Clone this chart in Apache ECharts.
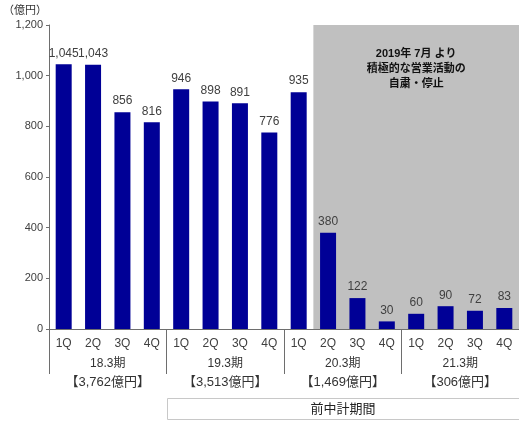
<!DOCTYPE html>
<html>
<head>
<meta charset="utf-8">
<script src="https://cdn.jsdelivr.net/npm/echarts@6/dist/echarts.min.js"></script>
<style>
  html, body { margin: 0; padding: 0; background: #fff; }
  #chart { width: 519px; height: 421px; }
</style>
</head>
<body>
<div id="chart"></div>
<script>
// Quarterly sales (億円) by fiscal period
const quarters = ['1Q','2Q','3Q','4Q','1Q','2Q','3Q','4Q','1Q','2Q','3Q','4Q','1Q','2Q','3Q','4Q'];
const sales = [1045, 1043, 856, 816, 946, 898, 891, 776, 935, 380, 122, 30, 60, 90, 72, 83];
const periods = ['18.3期', '19.3期', '20.3期', '21.3期'];
const periodTotals = ['3,762', '3,513', '1,469', '306'];
// quarters after active sales were suspended (from 2019-07)
const suspended = [0, 0, 0, 0, 0, 0, 0, 0, 0, 1, 1, 1, 1, 1, 1, 1];
const yTicks = { min: 0, max: 1200, interval: 200 };

const FONT = '"Liberation Sans", Arial, "Noto Sans CJK JP", sans-serif';
const AXIS_COLOR = '#6e6e6e';
const BAND = '#c0c0c0';

const chart = echarts.init(document.getElementById('chart'), null, { renderer: 'canvas' });

const fmt = v => Number(v).toLocaleString('en-US');

// suspension span in category-slot units (slot i covers [i, i+1])
const bandStart = suspended.indexOf(1);
const bandEnd = suspended.lastIndexOf(1) + 1;

chart.setOption({
  animation: false,
  textStyle: { fontFamily: FONT },
  grid: { left: 45, right: 0, top: 25, bottom: 92 },
  xAxis: [
    {
      type: 'category',
      data: quarters,
      axisLine: { lineStyle: { color: AXIS_COLOR, width: 1 } },
      axisTick: { show: false },
      axisLabel: { color: '#404040', fontSize: 12, margin: 9, interval: 0 }
    },
    {
      type: 'category',
      data: periods.map((p, i) => '{p|' + p + '}\n{t|【' + periodTotals[i] + '億円】}'),
      position: 'bottom',
      axisLine: { show: false },
      axisTick: { show: true, length: 45, lineStyle: { color: AXIS_COLOR } },
      axisLabel: {
        color: '#333',
        margin: 25,
        interval: 0,
        rich: {
          p: { fontSize: 12, lineHeight: 19, color: '#333' },
          t: { fontSize: 13, lineHeight: 19, color: '#333' }
        }
      }
    },
    {
      // slot axis: same width as the quarter axis, measured in slots
      type: 'value',
      min: 0,
      max: quarters.length,
      show: false
    }
  ],
  yAxis: {
    type: 'value',
    min: yTicks.min,
    max: yTicks.max,
    interval: yTicks.interval,
    name: '（億円）',
    nameLocation: 'end',
    nameGap: 9,
    nameTextStyle: { color: '#333', fontSize: 11, align: 'right', padding: [0, 2, 0, 0] },
    axisLine: { show: true, lineStyle: { color: AXIS_COLOR } },
    axisTick: { show: true, length: 3, lineStyle: { color: AXIS_COLOR } },
    splitLine: { show: false },
    axisLabel: { color: '#404040', fontSize: 11, margin: 6, formatter: fmt }
  },
  series: [
    {
      // gray band over the suspension period
      type: 'line',
      xAxisIndex: 2,
      data: [],
      silent: true,
      z: 1,
      markArea: {
        silent: true,
        itemStyle: { color: BAND, opacity: 1 },
        label: {
          show: true,
          position: 'insideTop',
          distance: 21,
          color: '#111',
          fontWeight: 'bold',
          fontSize: 11,
          lineHeight: 15,
          formatter: '2019年 7月 より\n積極的な営業活動の\n自粛・停止'
        },
        data: [[
          { xAxis: bandStart, yAxis: yTicks.max },
          { xAxis: bandEnd, yAxis: yTicks.min }
        ]]
      }
    },
    {
      type: 'bar',
      xAxisIndex: 0,
      data: sales,
      barWidth: 16,
      itemStyle: { color: '#000096' },
      label: {
        show: true,
        position: 'top',
        distance: 5,
        color: '#404040',
        fontSize: 12,
        formatter: p => fmt(p.value)
      },
      z: 3
    }
  ],
  graphic: [
    {
      type: 'group',
      left: 167,
      top: 398,
      children: [
        {
          type: 'rect',
          shape: { x: 0.5, y: 0.5, width: 352, height: 21 },
          style: { fill: '#fff', stroke: '#c8c8c8', lineWidth: 1 }
        },
        {
          type: 'text',
          style: {
            text: '前中計期間',
            x: 176,
            y: 11.5,
            textAlign: 'center',
            textVerticalAlign: 'middle',
            fill: '#222',
            font: '13px ' + FONT
          }
        }
      ]
    }
  ]
});
</script>
</body>
</html>
